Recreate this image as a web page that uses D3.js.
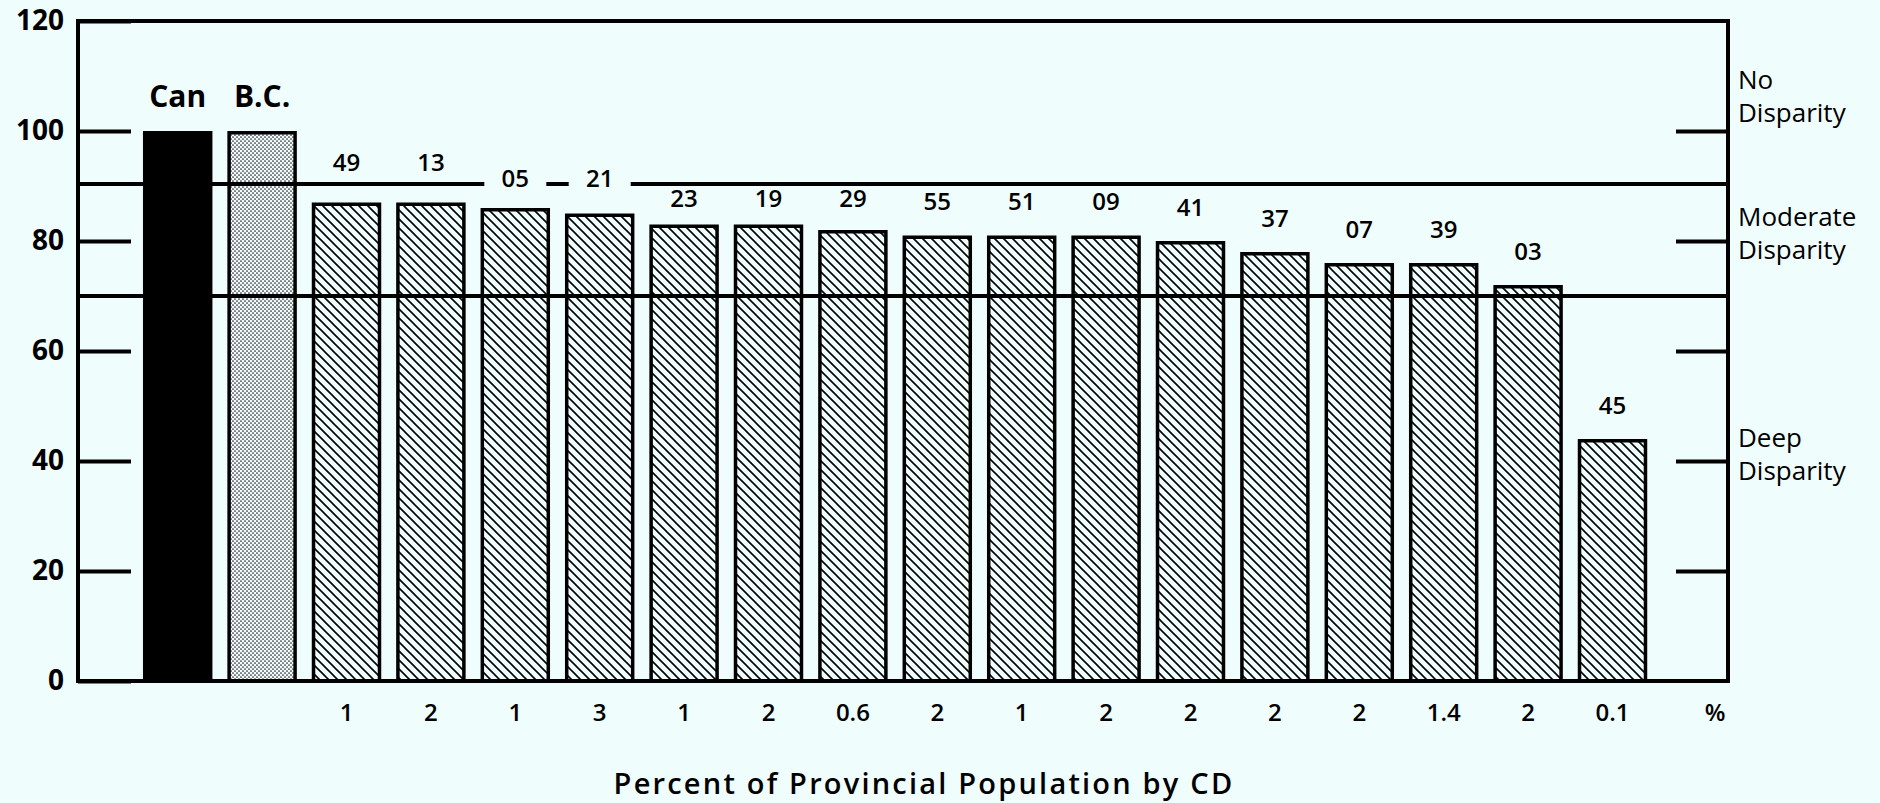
<!DOCTYPE html>
<html>
<head>
<meta charset="utf-8">
<script src="https://cdn.jsdelivr.net/npm/d3@7"></script>
<style>
  html, body { margin: 0; padding: 0; background: #effdfd; }
  svg { display: block; font-family: "Open Sans", "Noto Sans", sans-serif; }
</style>
</head>
<body>
<div id="chart"></div>
<script>
// census divisions (plus Canada and B.C. as reference bars)
var cdCodes = ["Can", "B.C.", "49", "13", "05", "21", "23", "19", "29", "55", "51", "09", "41", "37", "07", "39", "03", "45"];
var incomeIndex = [100, 100, 87, 87, 86, 85, 83, 83, 82, 81, 81, 81, 80, 78, 76, 76, 72, 44];
var popShare = ["", "", "1", "2", "1", "3", "1", "2", "0.6", "2", "1", "2", "2", "2", "2", "1.4", "2", "0.1"];
var yTicks = [0, 20, 40, 60, 80, 100, 120];
var sideTicks = [20, 40, 60, 80, 100];
var zoneLines = [90, 70];
var zoneNames = [["No", "Disparity"], ["Moderate", "Disparity"], ["Deep", "Disparity"]];

var width = 1880, height = 803;
// note: "top" is taken by window.top, so plot* names
var plotLeft = 78, plotRight = 1728, plotTop = 21, plotBottom = 681;
var bg = "#effdfd";

var svg = d3.select("#chart").append("svg")
    .attr("width", width)
    .attr("height", height);

// patterns
var defs = svg.append("defs");

var hatch = defs.append("pattern")
    .attr("id", "hatch")
    .attr("patternUnits", "userSpaceOnUse")
    .attr("width", 9)
    .attr("height", 9);
hatch.append("rect").attr("width", 9).attr("height", 9).attr("fill", bg);
hatch.append("path")
    .attr("d", "M-2,-2 L11,11 M-2,7 L2,11 M7,-2 L11,2")
    .attr("stroke", "#000")
    .attr("stroke-width", 1.6);

var dots = defs.append("pattern")
    .attr("id", "dots")
    .attr("patternUnits", "userSpaceOnUse")
    .attr("width", 4)
    .attr("height", 4);
dots.append("rect").attr("width", 4).attr("height", 4).attr("fill", "#f2fbfb");
dots.append("circle").attr("cx", 1).attr("cy", 1).attr("r", 0.85).attr("fill", "#222");
dots.append("circle").attr("cx", 3).attr("cy", 3).attr("r", 0.85).attr("fill", "#222");

var x = d3.scaleBand()
    .domain(cdCodes)
    .range([135.5, 1654.7])
    .paddingInner(0.177)
    .paddingOuter(0.0885);

var y = d3.scaleLinear()
    .domain([0, 120])
    .range([plotBottom, plotTop]);

function fillFor(i) {
    return i == 0 ? "#000" : i == 1 ? "url(#dots)" : "url(#hatch)";
}

// bars
svg.selectAll(".bar")
    .data(incomeIndex)
    .enter()
    .append("rect")
    .classed("bar", true)
    .attr("x", (d, i) => x(cdCodes[i]) + 1.75)
    .attr("y", d => y(d) + 1.75)
    .attr("width", x.bandwidth() - 3.5)
    .attr("height", d => y(0) - y(d) - 1.75)
    .attr("fill", (d, i) => fillFor(i))
    .attr("stroke", "#000")
    .attr("stroke-width", 3.5);

// zone boundary lines, drawn over the bars
svg.selectAll(".zone")
    .data(zoneLines)
    .enter()
    .append("line")
    .attr("x1", plotLeft)
    .attr("x2", plotRight)
    .attr("y1", d => y(d) - (d == 90 ? 2 : 0))
    .attr("y2", d => y(d) - (d == 90 ? 2 : 0))
    .attr("stroke", "#000")
    .attr("stroke-width", 4);

// left axis, ticks pointing inward
var leftAxis = d3.axisLeft(y).tickValues(yTicks).tickSize(-53).tickPadding(14);
var gl = svg.append("g")
    .attr("transform", `translate(${plotLeft},0)`)
    .call(leftAxis);
gl.select(".domain").remove();
gl.selectAll(".tick line").attr("stroke", "#000").attr("stroke-width", 4);
gl.selectAll(".tick text")
    .attr("fill", "#000")
    .style("font-size", "28px")
    .style("font-weight", 700)
    .style("font-family", "'Open Sans', sans-serif");

var rightAxis = d3.axisRight(y).tickValues(sideTicks).tickSize(-52).tickFormat("");
var gr = svg.append("g")
    .attr("transform", `translate(${plotRight},0)`)
    .call(rightAxis);
gr.select(".domain").remove();
gr.selectAll(".tick line").attr("stroke", "#000").attr("stroke-width", 4);

// frame
svg.append("rect")
    .attr("x", plotLeft)
    .attr("y", plotTop)
    .attr("width", plotRight - plotLeft)
    .attr("height", plotBottom - plotTop)
    .attr("fill", "none")
    .attr("stroke", "#000")
    .attr("stroke-width", 4);

// labels above bars, moved off the 90 line when they would sit on it
var lineY = y(zoneLines[0]) - 2;
function labelCenter(v) {
    var barTop = y(v);
    var c = barTop - 34;
    if (c + 10 <= lineY - 8) return {c: c, onLine: false};
    var gap = barTop - lineY;
    if (gap < 22) return {c: lineY - 22, onLine: false};
    if (gap < 36) return {c: lineY - 6, onLine: true};
    return {c: Math.max(c, lineY + 14), onLine: false};
}

var labels = svg.append("g");
cdCodes.forEach((code, i) => {
    var cx = x(code) + x.bandwidth() / 2;
    var pos = labelCenter(incomeIndex[i]);
    if (i < 2) pos = {c: y(incomeIndex[i]) - 35, onLine: false};
    if (pos.onLine) {
        labels.append("rect")
            .attr("x", cx - 31)
            .attr("y", lineY - 8)
            .attr("width", 62)
            .attr("height", 16)
            .attr("fill", bg);
    }
    labels.append("text")
        .attr("x", cx)
        .attr("y", pos.c)
        .attr("dy", "0.36em")
        .attr("text-anchor", "middle")
        .style("font-size", i < 2 ? "30px" : "24px")
        .style("font-weight", i < 2 ? 700 : 600)
        .text(code);
});

// bottom: share of provincial population
var bottomAxis = d3.axisBottom(x).tickSize(0).tickPadding(23).tickFormat((d, i) => popShare[i]);
var gb = svg.append("g")
    .attr("transform", `translate(0,${plotBottom})`)
    .call(bottomAxis);
gb.select(".domain").remove();
gb.selectAll(".tick text")
    .attr("fill", "#000")
    .style("font-size", "24px")
    .style("font-weight", 600)
    .style("font-family", "'Open Sans', sans-serif");

svg.append("text")
    .attr("x", plotRight - 13)
    .attr("y", plotBottom + 23)
    .attr("dy", "0.71em")
    .attr("text-anchor", "middle")
    .style("font-size", "24px")
    .style("font-weight", 600)
    .text("%");

svg.append("text")
    .attr("x", 924)
    .attr("y", 794)
    .attr("text-anchor", "middle")
    .style("font-size", "29px")
    .style("font-weight", 600)
    .style("letter-spacing", "2.2px")
    .text("Percent of Provincial Population by CD");

// zone names on the right
var zoneAt = [107.6, 82.7, 42.5];
zoneNames.forEach((lines, k) => {
    var t = svg.append("text")
        .attr("x", plotRight + 10)
        .attr("y", y(zoneAt[k]))
        .style("font-size", "26px");
    lines.forEach((ln, j) => {
        t.append("tspan")
            .attr("x", plotRight + 10)
            .attr("dy", j == 0 ? 0 : 33)
            .text(ln);
    });
});
</script>
</body>
</html>
